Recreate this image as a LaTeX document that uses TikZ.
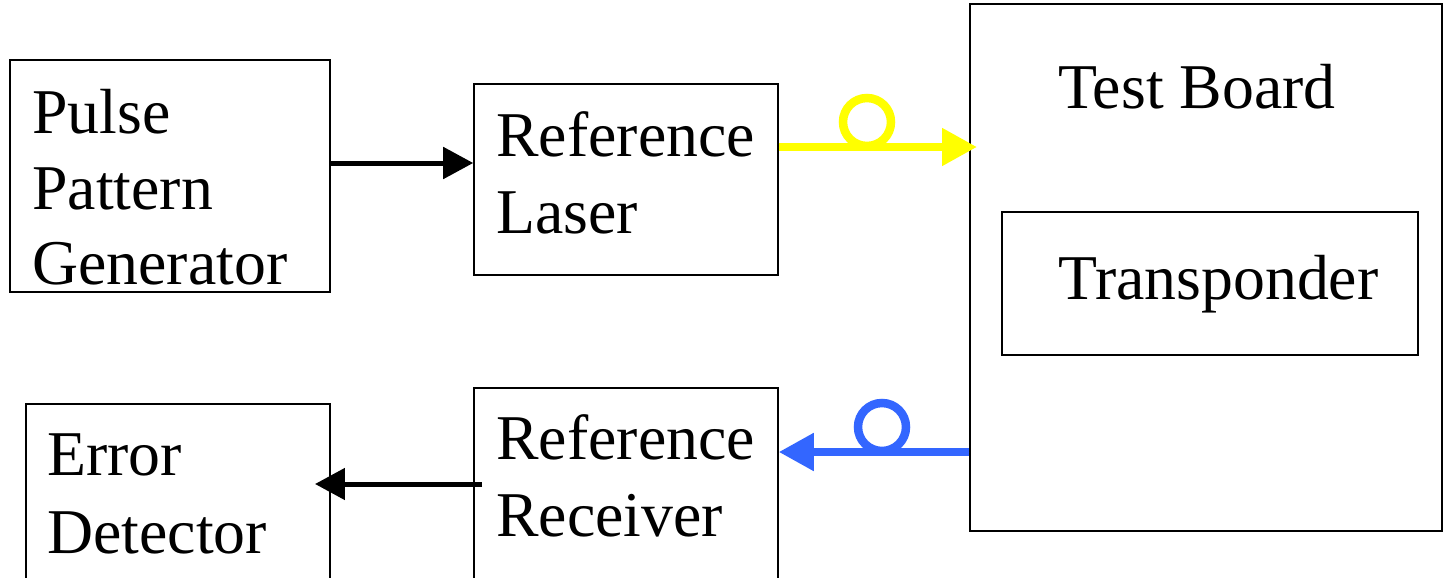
\documentclass[tikz,border=0pt]{standalone}
\usepackage{fontspec}
\setmainfont{Liberation Serif}
\usetikzlibrary{arrows.meta}
\definecolor{fibyel}{HTML}{FFFF00}
\definecolor{fibblue}{HTML}{3366FF}
\begin{document}
\begin{tikzpicture}[x=0.02cm,y=-0.02cm,
  box/.style={draw=black,line width=0.9pt,rectangle,inner sep=0pt},
  lbl/.style={inner sep=0pt,anchor=base west,font=\fontsize{36.3}{43}\selectfont},
  blk/.style={line width=0.1cm,-{Triangle[length=0.6cm,width=0.62cm]}},
  fib/.style={line width=0.16cm,-{Triangle[length=0.7cm,width=0.72cm]}},
  loop/.style={line width=0.17cm}]
\useasboundingbox (0,0) rectangle (1444,578);
\clip (0,0) rectangle (1444,578);
% boxes
\node[box,minimum width=6.4cm,minimum height=4.64cm] (ppg) at (170,176) {};
\node[box,minimum width=6.08cm,minimum height=3.82cm] (laser) at (626,179.5) {};
\node[box,minimum width=9.44cm,minimum height=10.54cm] (board) at (1206,267.5) {};
\node[box,minimum width=8.32cm,minimum height=2.86cm] (trans) at (1210,283.5) {};
\node[box,minimum width=6.08cm,minimum height=4.4cm] (err) at (178,514) {};
\node[box,minimum width=6.08cm,minimum height=4.4cm] (rx) at (626,498) {};
% labels
\node[lbl] (t1) at (32,133) {Pulse};
\node[lbl] (t2) at (32,209) {Pattern};
\node[lbl] (t3) at (32,284) {Generator};
\node[lbl] (t4) at (496,156) {Reference};
\node[lbl] (t5) at (496,233) {Laser};
\node[lbl] (t6) at (1058,108) {Test Board};
\node[lbl] (t7) at (1058,299) {Transponder};
\node[lbl] (t8) at (47,475) {Error};
\node[lbl] (t9) at (47,553) {Detector};
\node[lbl] (t10) at (496,459) {Reference};
\node[lbl] (t11) at (496,536) {Receiver};
% connectors
\coordinate (ytip) at (977,147);
\coordinate (rxs) at (482,484);
\coordinate (errtip) at (315,484);
\draw[blk] (ppg.east |- 0,163) -- (laser.west |- 0,163);
\draw[fib,draw=fibyel,fill=fibyel] (laser.east |- ytip) -- (ytip);
\draw[loop,draw=fibyel] (867,122) circle[radius=0.48cm];
\draw[fib,draw=fibblue,fill=fibblue] (board.west |- 0,452) -- (rx.east |- 0,452);
\draw[loop,draw=fibblue] (882,427) circle[radius=0.48cm];
\draw[blk] (rxs) -- (errtip);
\end{tikzpicture}
\end{document}
